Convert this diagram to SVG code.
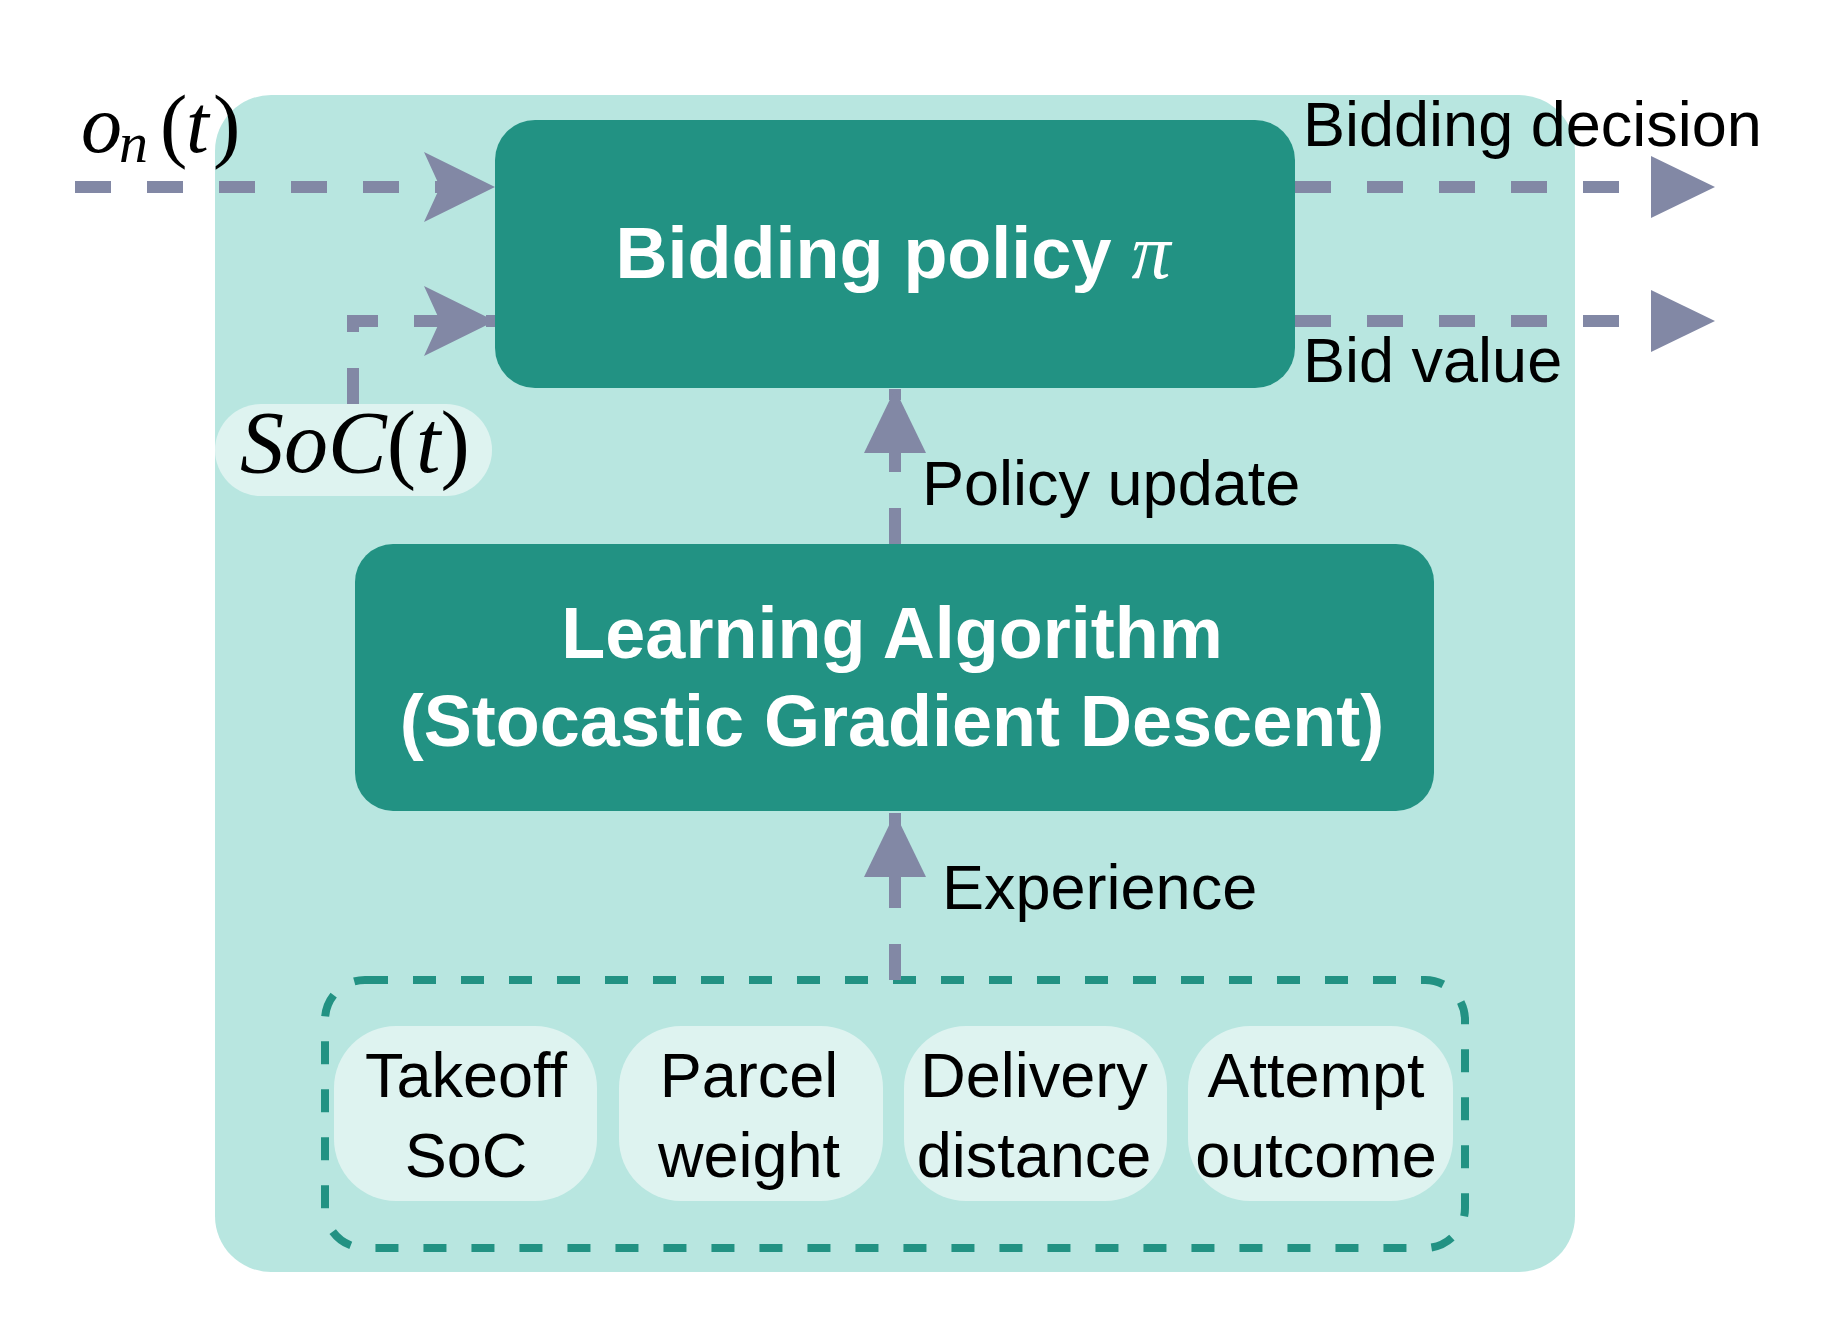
<svg xmlns="http://www.w3.org/2000/svg" width="1833" height="1320" viewBox="0 0 1833 1320">
<style>
.panel{fill:#b8e6e0}
.box{fill:#229283}
.pill{fill:#def3f0}
.btxt{font-family:"Liberation Sans",Arial,sans-serif;font-weight:bold;font-size:72px;fill:#ffffff;text-anchor:middle}
.lbl{font-family:"Liberation Sans",Arial,sans-serif;font-size:63px;fill:#000000}
.ptxt{font-family:"Liberation Sans",Arial,sans-serif;font-size:63px;fill:#000000;text-anchor:middle}
.math{font-family:"Liberation Serif","Times New Roman",serif;font-size:82px;fill:#000000}
.it{font-style:italic}
.conn{fill:none;stroke:#8288a5;stroke-width:12;stroke-dasharray:36 36}
.group{fill:none;stroke:#229283;stroke-width:8;stroke-dasharray:23 25}
</style>
<defs>
<marker id="notch" viewBox="0 0 71 70" refX="71" refY="35" markerWidth="71" markerHeight="70" markerUnits="userSpaceOnUse" orient="auto">
<path d="M0,0 L71,35 L0,70 L16,35 Z" fill="#8288a5"/>
</marker>
<marker id="tri" viewBox="0 0 64 62" refX="64" refY="31" markerWidth="64" markerHeight="62" markerUnits="userSpaceOnUse" orient="auto">
<path d="M0,0 L64,31 L0,62 Z" fill="#8288a5"/>
</marker>
</defs>
<rect width="1833" height="1320" fill="#ffffff"/>
<g id="agent-panel">
<rect class="panel" x="215" y="95" width="1360" height="1177" rx="56"/>
</g>
<g id="experience-group">
<rect class="group" x="325" y="980" width="1140" height="268" rx="40"/>
</g>
<g id="connectors">
<path class="conn" d="M75,187 H495" marker-end="url(#notch)"/>
<path class="conn" d="M353,404 V321 H495" marker-end="url(#notch)"/>
<path class="conn" d="M1295,187 H1715" marker-end="url(#tri)"/>
<path class="conn" d="M1295,321 H1715" marker-end="url(#tri)"/>
<path class="conn" d="M895,544 V389" marker-end="url(#tri)"/>
<path class="conn" d="M895,980 V813" marker-end="url(#tri)"/>
</g>
<g id="bidding-policy">
<rect class="box" x="495" y="120" width="800" height="268" rx="40"/>
<text class="btxt" x="893" y="278">Bidding policy <tspan font-family="'Liberation Serif',serif" font-style="italic" font-weight="normal" font-size="78">π</tspan></text>
</g>
<g id="learning-algorithm">
<rect class="box" x="355" y="544" width="1079" height="267" rx="38"/>
<text class="btxt" x="892" y="658">Learning Algorithm</text>
<text class="btxt" x="892" y="746">(Stocastic Gradient Descent)</text>
</g>
<g id="soc-input">
<rect class="pill" x="215" y="404" width="277" height="92" rx="46"/>
<text class="math" x="240" y="472" style="font-size:88px"><tspan class="it">SoC</tspan>(<tspan class="it">t</tspan>)</text>
</g>
<g id="observation-input">
<text class="math" y="152"><tspan class="it" x="81">o</tspan><tspan class="it" x="119" y="162" font-size="58">n</tspan><tspan x="160" y="152">(</tspan><tspan class="it" x="186">t</tspan><tspan x="213">)</tspan></text>
</g>
<g id="label-bidding-decision"><text class="lbl" x="1303" y="146">Bidding decision</text></g>
<g id="label-bid-value"><text class="lbl" x="1303" y="382">Bid value</text></g>
<g id="label-policy-update"><text class="lbl" x="922" y="505">Policy update</text></g>
<g id="label-experience"><text class="lbl" x="942" y="909">Experience</text></g>
<g id="takeoff-soc">
<rect class="pill" x="334" y="1026" width="263" height="175" rx="62"/>
<text class="ptxt" x="466" y="1097">Takeoff</text>
<text class="ptxt" x="466" y="1177">SoC</text>
</g>
<g id="parcel-weight">
<rect class="pill" x="619" y="1026" width="264" height="175" rx="62"/>
<text class="ptxt" x="749" y="1097">Parcel</text>
<text class="ptxt" x="749" y="1177">weight</text>
</g>
<g id="delivery-distance">
<rect class="pill" x="904" y="1026" width="263" height="175" rx="62"/>
<text class="ptxt" x="1034" y="1097">Delivery</text>
<text class="ptxt" x="1034" y="1177">distance</text>
</g>
<g id="attempt-outcome">
<rect class="pill" x="1188" y="1026" width="265" height="175" rx="62"/>
<text class="ptxt" x="1316" y="1097">Attempt</text>
<text class="ptxt" x="1316" y="1177">outcome</text>
</g>
</svg>
